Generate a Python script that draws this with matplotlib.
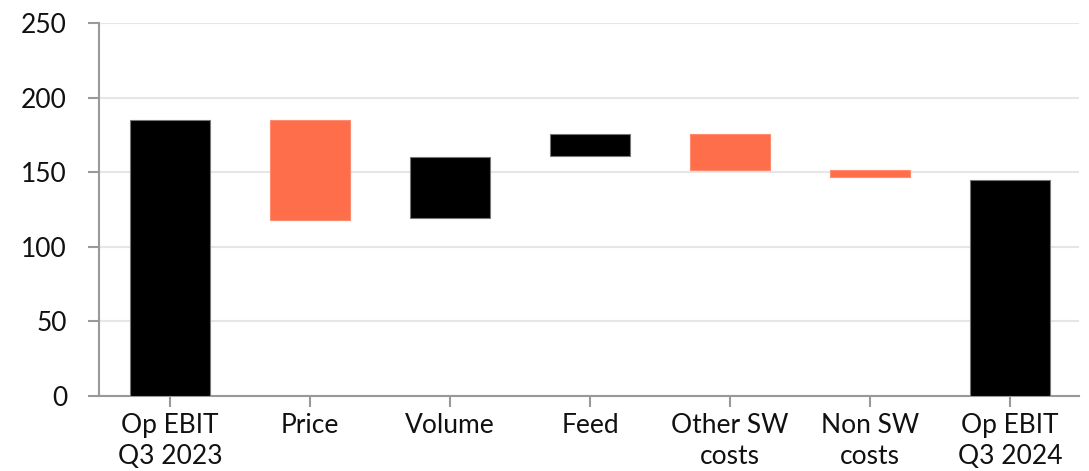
import matplotlib
matplotlib.use("Agg")
import matplotlib.pyplot as plt

categories = ["Op EBIT\nQ3 2023", "Price", "Volume", "Feed", "Other SW\ncosts", "Non SW\ncosts", "Op EBIT\nQ3 2024"]
bar_low = [0, 118, 119.5, 161, 151.5, 146.5, 0]
bar_high = [185, 185, 160.5, 175.5, 175.5, 151.5, 144.5]
bar_colors = ["#000000", "#FF6E4A", "#000000", "#000000", "#FF6E4A", "#FF6E4A", "#000000"]
y_ticks = [0, 50, 100, 150, 200, 250]

plt.rcParams['font.family'] = ['Lato', 'DejaVu Sans']

fig = plt.figure(figsize=(10.89, 4.71), dpi=100)
ax = fig.add_axes([99/1089, 1 - 396/471, (1079-99)/1089, (396-23)/471])

x = list(range(len(categories)))
heights = [h - l for l, h in zip(bar_low, bar_high)]
edge = ["#777777" if c == "#000000" else "#FF8A6E" for c in bar_colors]
ax.bar(x, heights, bottom=bar_low, width=0.575, color=bar_colors, edgecolor=edge, linewidth=0.8, zorder=3)

ax.set_xlim(-0.507, 6.493)
ax.set_ylim(0, 250)
ax.set_yticks(y_ticks)
ax.set_xticks(x)
ax.set_xticklabels(categories, fontsize=19, color="#111111", linespacing=1.3)
ax.tick_params(axis='y', labelsize=19, labelcolor="#111111", length=8, width=1.5, color="#999999", pad=15)
ax.tick_params(axis='x', length=8, width=1.5, color="#999999", pad=4)
ax.grid(axis='y', color="#E6E6E6", linewidth=1.5, zorder=0)
ax.set_axisbelow(True)
for s in ["top", "right"]:
    ax.spines[s].set_visible(False)
for s in ["left", "bottom"]:
    ax.spines[s].set_color("#999999")
    ax.spines[s].set_linewidth(1.5)

fig.savefig("out.png", dpi=100)
